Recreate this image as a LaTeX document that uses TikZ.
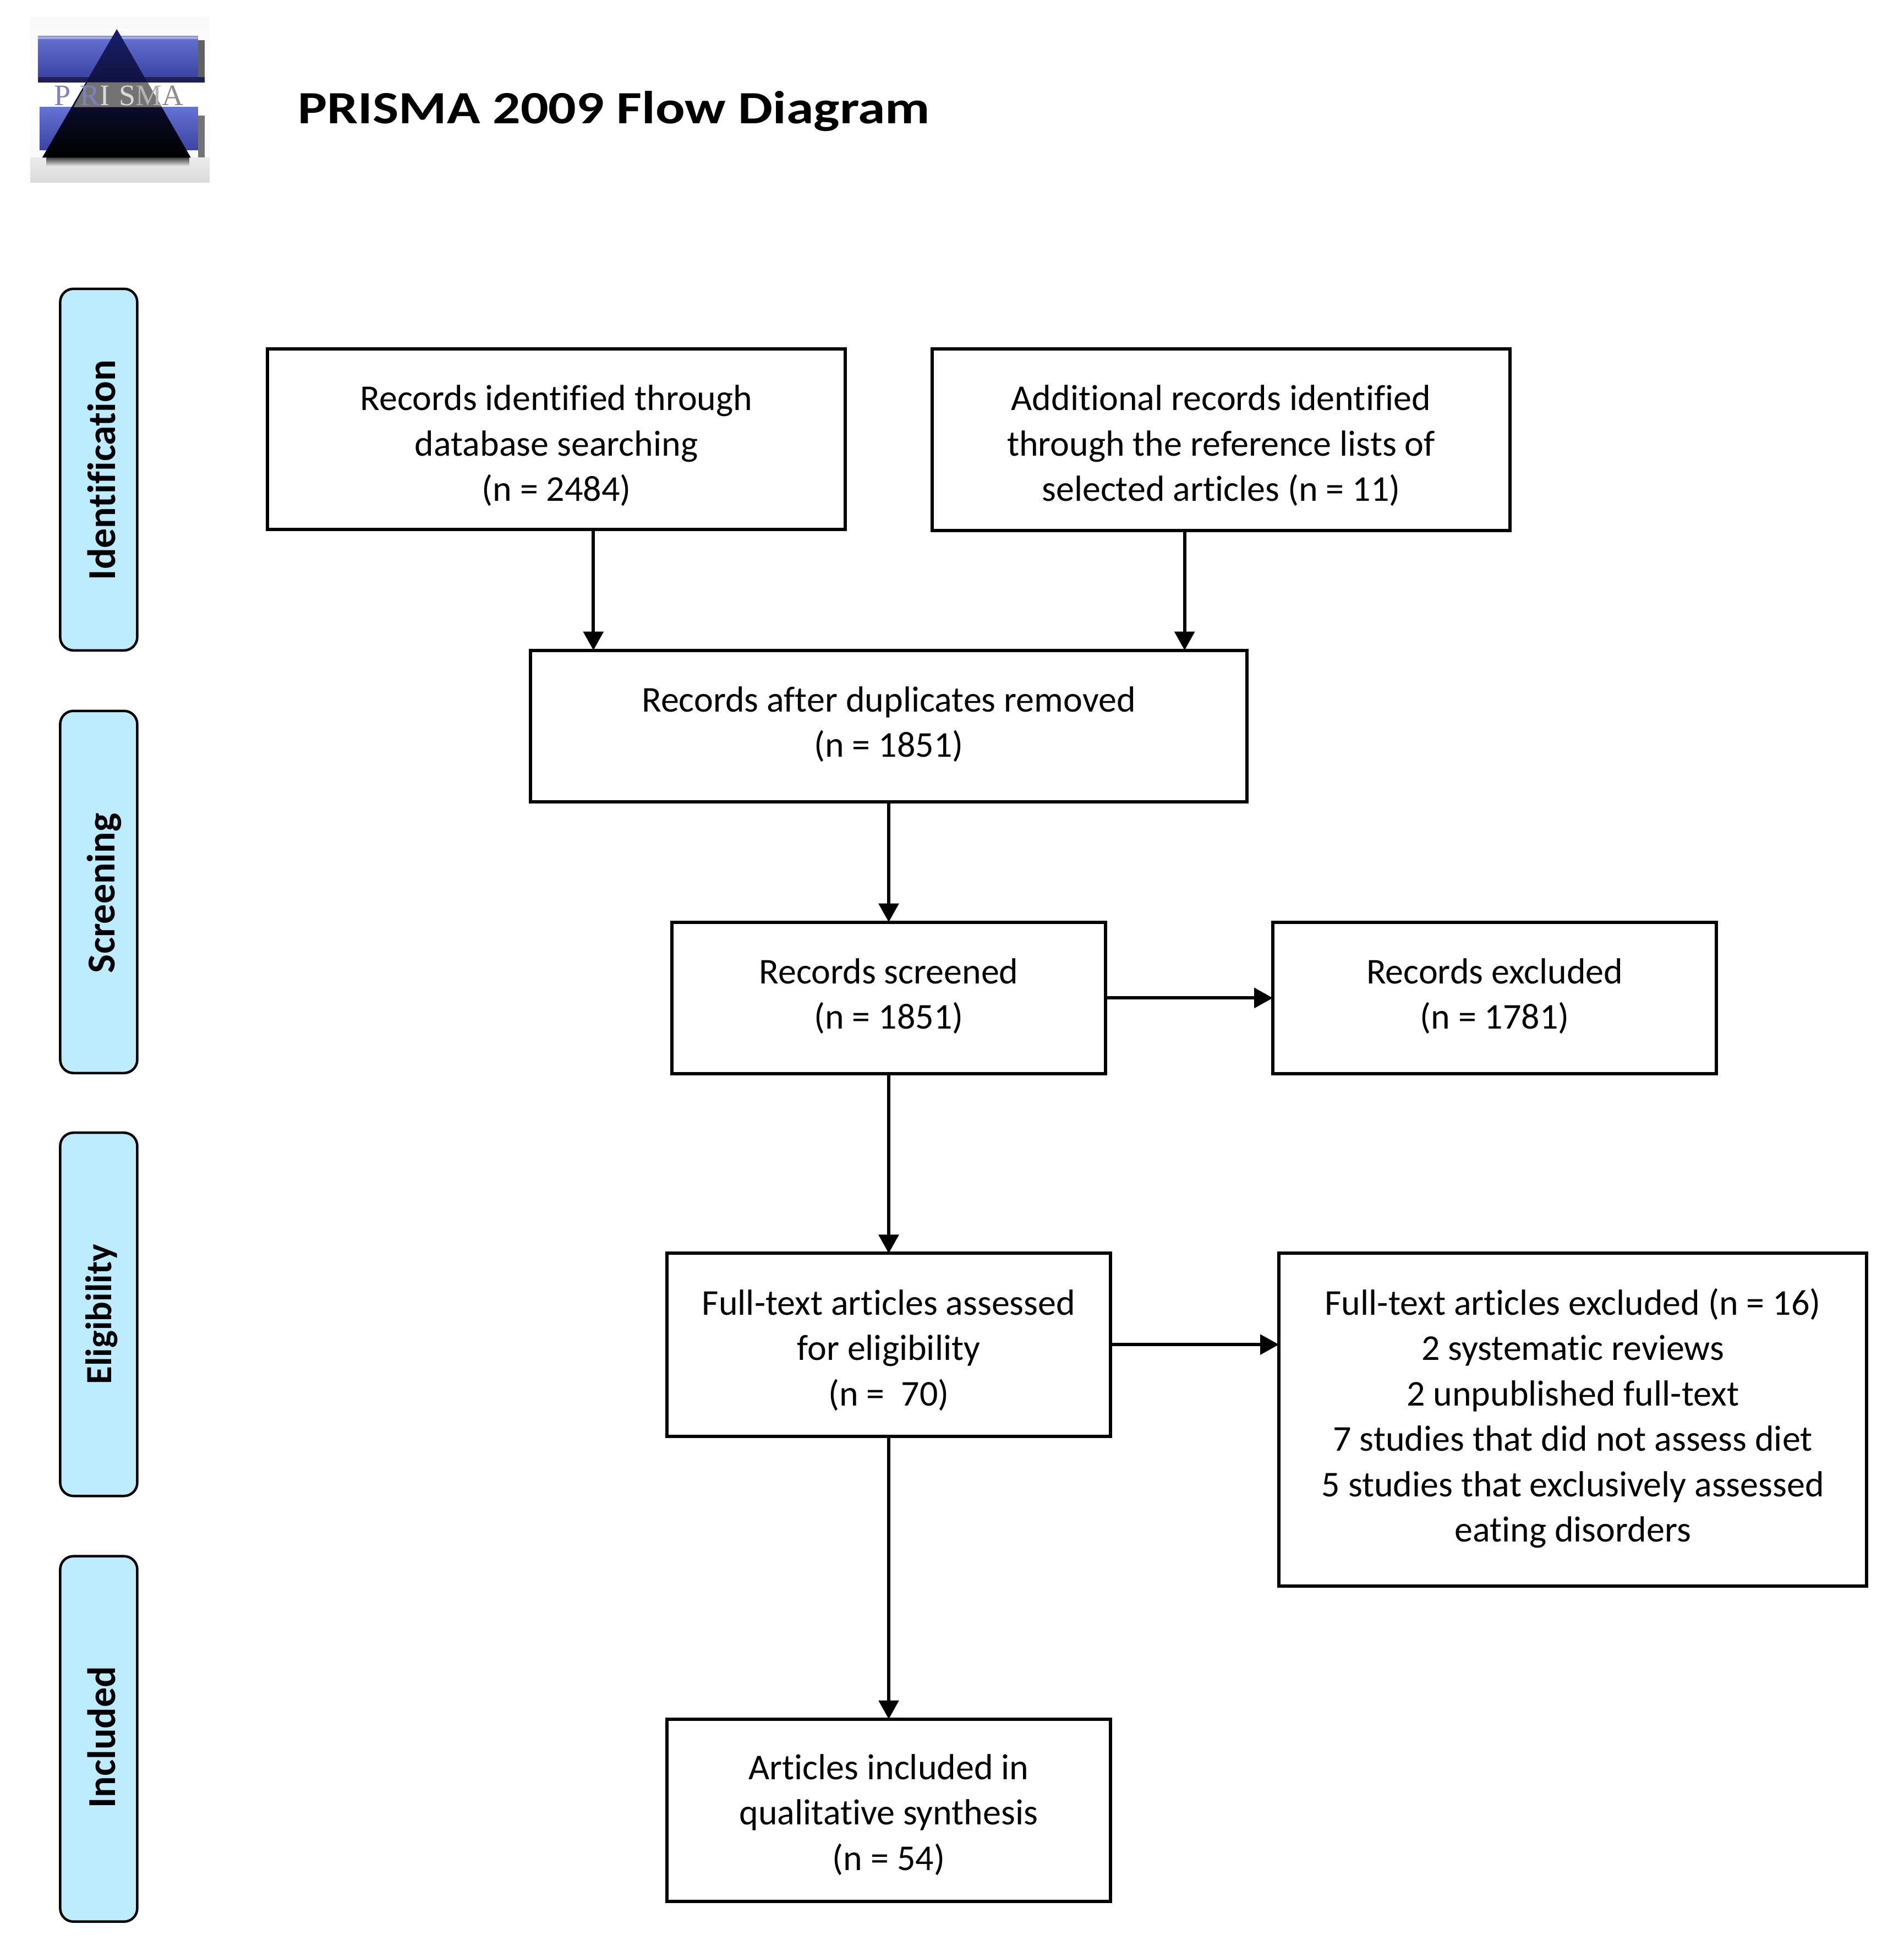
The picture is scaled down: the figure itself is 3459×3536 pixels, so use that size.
\documentclass[tikz,border=0pt]{standalone}
\usepackage{fontspec}
\setmainfont[Ligatures=NoCommon]{Carlito}
\newfontfamily\logofont[LetterSpace=31]{Liberation Serif}
\usetikzlibrary{arrows.meta,calc}
\definecolor{pill}{HTML}{BDEBFF}
\definecolor{bluetop}{HTML}{6472D2}
\definecolor{bluebot}{HTML}{3C44A4}
\definecolor{dblue}{HTML}{1A1F6C}
\tikzset{
 flowbox/.style={draw=black,line width=6pt,fill=white,inner sep=0pt,outer sep=0pt},
 flowtext/.style={align=center,inner sep=0pt,font=\fontsize{66}{82.5}\selectfont},
 stagepill/.style={draw=black,line width=4.5pt,fill=pill,rounded corners=24pt,inner sep=0pt,outer sep=0pt,
   minimum width=140pt},
 stagetext/.style={rotate=90,inner sep=0pt,font=\fontsize{72}{84}\selectfont\bfseries},
 flowarrow/.style={draw=black,line width=6pt,-{Triangle[length=34pt,width=36pt]}},
}
\newcommand{\flowbox}[7]{%
 \node[flowbox,minimum width={(#4-#2)*0.9966},minimum height={(#5-#3)*0.998}] (#1) at ({(#2+#4)/2+2},{(#3+#5)/2}) {};
 \node[flowtext] (#1t) at ($(#1.center)+(0,#6)$) {#7};}
\begin{document}
\begin{tikzpicture}[x=0.9966pt,y=-0.998pt]
\useasboundingbox (0pt,0pt) rectangle (3459pt,-3536pt);
% logo
\shade[top color=white!95!gray,bottom color=white!95!gray,middle color=white] (55,32) rectangle (382,300);
\shade[top color=black!8,bottom color=black!14] (55,287) rectangle (382,332);
\fill[white] (69,150) rectangle (380,195);
\fill[black!62] (361,73) rectangle (373,150);
\fill[black!55] (361,210) rectangle (373,287);
\shade[top color=bluetop,bottom color=bluebot] (69,66) rectangle (361,140);
\fill[bluetop!60!white] (69,66) rectangle (361,71);
\fill[black!50!bluebot] (69,140) rectangle (373,150);
\shade[top color=bluetop,bottom color=bluebot] (72,195) rectangle (361,273);
\shade[top color=black!75,bottom color=black!12] (85,287) rectangle (345,302);
\shade[top color=dblue,bottom color=black] (213,53) -- (348,287) -- (77,287) -- cycle;
\fill[black!55] (159,150) -- (269,150) -- (295,195) -- (134,195) -- cycle;
\node[inner sep=0pt,font=\fontsize{54}{54}\logofont] (logo) at (217,174)
 {\textcolor{black!50!blue!50!white}{PR}\textcolor{black!15}{IS}\textcolor{black!30}{M}\textcolor{black!45}{A}};
% title
\node[anchor=west,inner sep=0pt,xscale=1.19,transform shape,font=\fontsize{84}{90}\selectfont\bfseries] (title) at (543,203) {PRISMA 2009 Flow Diagram};
% stages
\node[stagepill,minimum height=657pt] (s1) at (180,855) {};
\node[stagepill,minimum height=658pt] (s2) at (180,1624) {};
\node[stagepill,minimum height=660pt] (s3) at (180,2393) {};
\node[stagepill,minimum height=664pt] (s4) at (180,3166) {};
\node[stagetext] (t1) at (185,856) {Identification};
\node[stagetext] (t2) at (190,1626) {Screening};
\node[stagetext,font=\fontsize{67}{84}\selectfont\bfseries] (t3) at (185,2393) {Eligibility};
\node[stagetext] (t4) at (185,3163) {Included};
% boxes
\flowbox{b1}{486}{635}{1539}{964}{12}{Records identified through\\database searching\\(n = 2484)}
\flowbox{b2}{1698}{635}{2751}{966}{11}{Additional records identified\\through the reference lists of\\selected articles (n = 11)}
\flowbox{b3}{965}{1184}{2272}{1460}{-3}{Records after duplicates removed\\(n = 1851)}
\flowbox{b4}{1223}{1679}{2014}{1955}{-3}{Records screened\\(n = 1851)}
\flowbox{b5}{2319}{1679}{3128}{1955}{-3}{Records excluded\\(n = 1781)}
\flowbox{b6}{1214}{2282}{2023}{2615}{10}{Full-text articles assessed\\for eligibility\\(n =\ \ 70)}
\flowbox{b7}{2330}{2282}{3402}{2888}{-3}{Full-text articles excluded (n = 16)\\2 systematic reviews\\2 unpublished full-text\\7 studies that did not assess diet\\5 studies that exclusively assessed\\eating disorders}
\flowbox{b8}{1214}{3130}{2023}{3462}{8}{Articles included in\\qualitative synthesis\\(n = 54)}
% connectors
\coordinate (c1) at (1082,800);
\coordinate (c2) at (2160,800);
\coordinate (c3) at (2000,2448);
\draw[flowarrow] (b1.south -| c1) -- (b3.north -| c1);
\draw[flowarrow] (b2.south -| c2) -- (b3.north -| c2);
\draw[flowarrow] (b3) -- (b4);
\draw[flowarrow] (b4) -- (b6);
\draw[flowarrow] (b6) -- (b8);
\draw[flowarrow] (b4) -- (b5);
\draw[flowarrow] (b6.east |- c3) -- (b7.west |- c3);
\end{tikzpicture}
\end{document}
